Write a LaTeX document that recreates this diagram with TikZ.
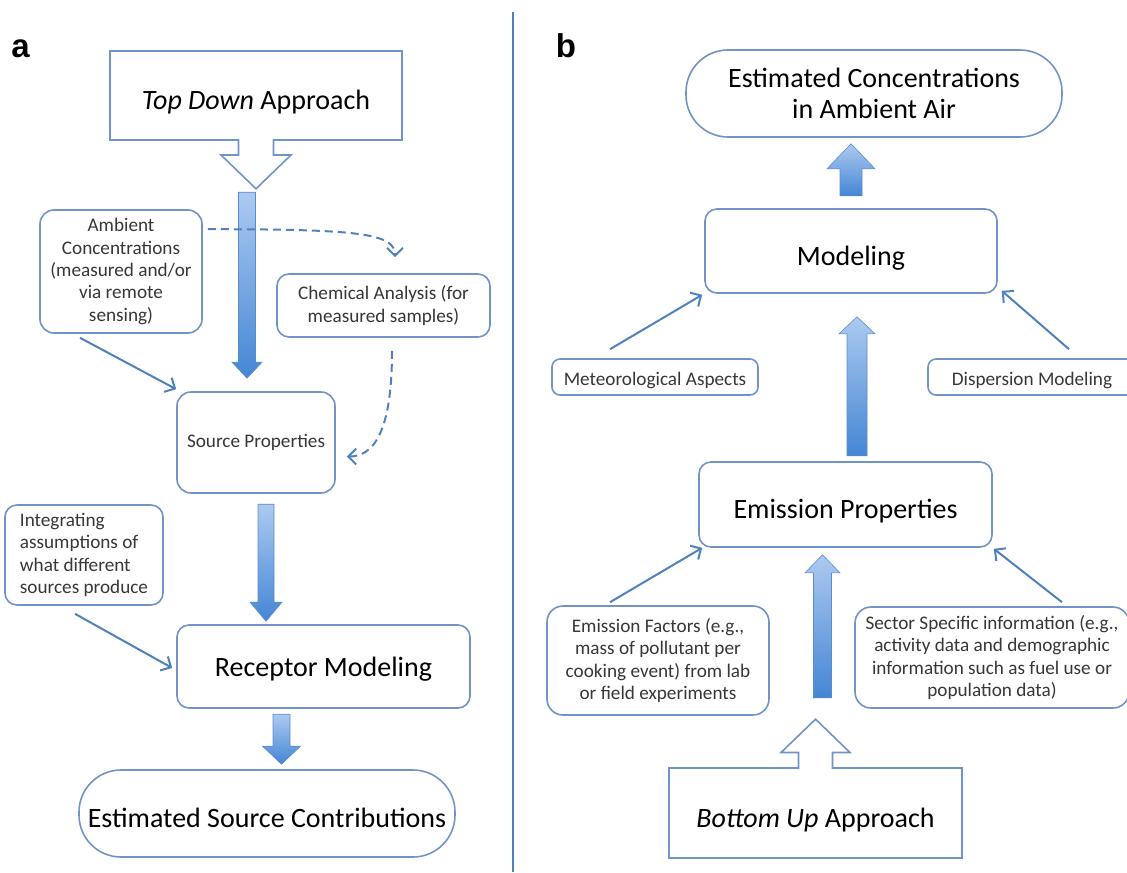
\documentclass[tikz,border=0pt]{standalone}
\usepackage{fontspec}
\setmainfont{Carlito}
\newfontfamily\labelfont{Liberation Sans}
\usetikzlibrary{shapes.arrows,calc,arrows.meta}
\definecolor{boxline}{RGB}{112,148,200}
\definecolor{conline}{RGB}{79,129,189}
\definecolor{fatlight}{RGB}{172,202,240}
\definecolor{fatdark}{RGB}{68,134,212}
\definecolor{fatedge}{RGB}{90,140,205}
\definecolor{txtgray}{RGB}{55,55,55}
\newcommand{\bigtxt}{\fontsize{14}{15.5}\selectfont}
\newcommand{\smalltxt}{\fontsize{9.6}{11.2}\selectfont}
\newcommand{\fatdown}[5]{\shadedraw[draw=fatedge, line width=0.3pt, top color=fatlight, bottom color=fatdark]
  ($(#1)+(-#3,-#2)$) -- ($(#1)+(#3,-#2)$) -- ($(#1)+(#3,-#5)$) -- ($(#1)+(#4,-#5)$) -- (#1)
  -- ($(#1)+(-#4,-#5)$) -- ($(#1)+(-#3,-#5)$) -- cycle;}
\newcommand{\fatup}[5]{\shadedraw[draw=fatedge, line width=0.3pt, top color=fatlight, bottom color=fatdark]
  ($(#1)+(-#3,#2)$) -- ($(#1)+(#3,#2)$) -- ($(#1)+(#3,#5)$) -- ($(#1)+(#4,#5)$) -- (#1)
  -- ($(#1)+(-#4,#5)$) -- ($(#1)+(-#3,#5)$) -- cycle;}
\begin{document}
\begin{tikzpicture}[x=0.5pt, y=-0.5pt,
box/.style={draw=boxline, line width=0.8pt, rounded corners=6pt, fill=white, align=center, inner sep=0pt},
bigbox/.style={box, font=\bigtxt, text height=14pt, text depth=0pt},
smallbox/.style={box, font=\smalltxt, text=txtgray},
ends/.style={box, font=\bigtxt, rounded corners=21pt},
approach/.style={shape=arrow box, draw=boxline, line width=0.8pt, fill=white, font=\bigtxt, inner sep=0pt,
  text height=14pt, text depth=0pt,
  arrow box shaft width=17.5pt, arrow box head extend=8.75pt, arrow box tip angle=92},
link/.style={draw=conline, line width=1pt, -{Straight Barb[length=4pt, width=8pt]}},
dlink/.style={link, dash pattern=on 4pt off 2.5pt},
divider/.style={draw=conline, line width=1pt},
panel/.style={font=\labelfont\bfseries\fontsize{16.5}{18}\selectfont, anchor=base}
]
\useasboundingbox (0,0) rectangle (1127,872);

% panel a
\node[panel] (lbla) at (20.5,58) {a};
\node[approach, minimum width=146pt, minimum height=44.5pt,
  arrow box arrows={north:0pt, east:0pt, west:0pt, south:24pt}] (topdown) at (256,95.5) {\textit{Top Down} Approach};
\node[smallbox, minimum width=81pt, minimum height=61.5pt, rounded corners=7pt] (ambient) at (121,271.5)
  {Ambient\\Concentrations\\(measured and/or\\via remote\\sensing)};
\node[smallbox, minimum width=106.5pt, minimum height=31.5pt] (chem) at (383.5,305.5)
  {Chemical Analysis (for\\measured samples)};
\node[smallbox, minimum width=79pt, minimum height=50.5pt, rounded corners=7pt] (source) at (256,442.5) {Source Properties};
\node[smallbox, align=left, minimum width=79pt, minimum height=50pt] (integr) at (84,555)
  {Integrating\\assumptions of\\what different\\sources produce};
\node[bigbox, text height=10pt, minimum width=146.5pt, minimum height=41.5pt] (receptor) at (323.5,666.5) {Receptor Modeling};
\node[ends, text height=14pt, text depth=0pt, minimum width=188pt, minimum height=43.5pt] (estsrc) at (267,813.5) {Estimated Source Contributions};

\coordinate (a1tip) at ($(source.north)+(-9,-13)$);
\coordinate (a2tip) at ($(receptor.north)+(-57.5,-3)$);
\coordinate (a3tip) at ($(estsrc.north)+(14.5,-5)$);
\fatdown{a1tip}{186}{8.5}{15}{16}
\fatdown{a2tip}{117}{8}{16}{19}
\fatdown{a3tip}{50}{8.5}{19}{18}

\coordinate (d1s) at ($(ambient.north east)+(5,20)$);
\coordinate (d1e) at ($(chem.north)+(11.5,-16)$);
\coordinate (d2s) at ($(chem.south)+(8.5,13)$);
\coordinate (d2e) at ($(source.east)+(11,14)$);
\draw[dlink] (d1s) .. controls ($(d1s)+(150,0)$) and ($(d1e)+(0,-24)$) .. (d1e);
\draw[dlink] (d2s) .. controls ($(d2s)+(0,85)$) and ($(d2e)+(25,0)$) .. (d2e);
\draw[link] ($(ambient.south)+(-41,4)$) -- ($(source.north west)+(0,-2)$);
\draw[link] ($(integr.south)+(-9,8)$) -- ($(receptor.west)+(-4,1.5)$);

\draw[divider] (513,12) -- (513,872);

% panel b
\node[panel] (lblb) at (566,58) {b};
\node[ends, minimum width=188pt, minimum height=43.5pt] (estconc) at (874,93.5)
  {Estimated Concentrations\\in Ambient Air};
\node[bigbox, minimum width=146pt, minimum height=42pt] (modeling) at (851,251) {Modeling};
\node[smallbox, text height=8.5pt, text depth=0pt, minimum width=103pt, minimum height=18pt, rounded corners=4pt] (meteo) at (655,377) {Meteorological Aspects};
\node[smallbox, text height=8.5pt, text depth=0pt, minimum width=104pt, minimum height=18pt, rounded corners=4pt] (disp) at (1032,377) {Dispersion Modeling};
\node[bigbox, minimum width=146.5pt, minimum height=42.5pt] (emis) at (845.5,504.5) {Emission Properties};
\node[smallbox, minimum width=111pt, minimum height=54.5pt, rounded corners=8pt] (efac) at (658,660.5)
  {Emission Factors (e.g.,\\mass of pollutant per\\cooking event) from lab\\or field experiments};
\node[smallbox, minimum width=137pt, minimum height=50.5pt, rounded corners=8pt] (sector) at (992,657.5)
  {Sector Specific information (e.g.,\\activity data and demographic\\information such as fuel use or\\population data)};
\node[approach, minimum width=146.5pt, minimum height=45pt, arrow box shaft width=17pt,
  arrow box arrows={north:24pt, east:0pt, west:0pt, south:0pt}] (bottomup) at (815.5,813) {\textit{Bottom Up} Approach};

\coordinate (b1tip) at ($(estconc.south)+(-23,6)$);
\coordinate (b2tip) at ($(modeling.south)+(6,23)$);
\coordinate (b3tip) at ($(emis.south)+(-23,7)$);
\fatup{b1tip}{52}{11}{24}{25}
\fatup{b2tip}{139}{10}{18}{17}
\fatup{b3tip}{143}{9}{17.5}{18}

\draw[link] ($(meteo.north)+(-45,-9)$) -- ($(modeling.south west)+(-2,1)$);
\draw[link] ($(disp.north)+(37,-9)$) -- ($(modeling.south east)+(4,-3)$);
\draw[link] ($(efac.north)+(-48,-3)$) -- ($(emis.south west)+(4,0)$);
\draw[link] ($(sector.north)+(70,-4)$) -- ($(emis.south east)+(1,1)$);
\end{tikzpicture}
\end{document}
